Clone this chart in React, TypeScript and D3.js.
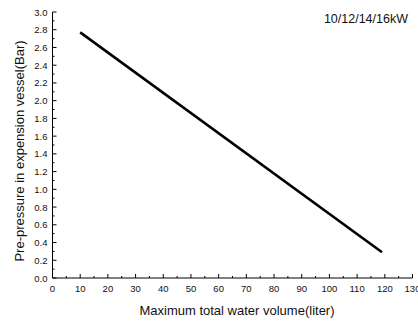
import React from "react";
import * as d3 from "d3";

const volumes = [10, 119];
const pressures = [2.77, 0.29];
const xTicks = [0, 10, 20, 30, 40, 50, 60, 70, 80, 90, 100, 110, 120, 130];
const yTicks = [0, 0.2, 0.4, 0.6, 0.8, 1.0, 1.2, 1.4, 1.6, 1.8, 2.0, 2.2, 2.4, 2.6, 2.8, 3.0];
const xLabel = "Maximum total water volume(liter)";
const yLabel = "Pre-pressure in expension vessel(Bar)";
const note = "10/12/14/16kW";

export default function App() {
  const W = 418, H = 323;
  const x = d3.scaleLinear().domain([0, 130]).range([52.5, 412.5]);
  const y = d3.scaleLinear().domain([0, 3]).range([278, 12]);
  const line = d3.line<number>().x((d, i) => x(volumes[i])).y((d) => y(d));
  const font = "'Liberation Sans', Arial, sans-serif";
  const xMinor = xTicks.slice(0, -1).map((t) => t + 5);
  const yMinor = yTicks.slice(0, -1).map((t) => t + 0.1);
  return (
    <svg width={W} height={H} style={{ position: "absolute", left: 0, top: 0, background: "#fff" }}>
      <g stroke="#000" strokeWidth={1} fill="none">
        <line x1={x(0)} x2={x(130)} y1={y(0)} y2={y(0)} />
        <line x1={x(0)} x2={x(0)} y1={y(0)} y2={y(3)} />
        {xTicks.map((t) => (
          <line key={"xt" + t} x1={x(t)} x2={x(t)} y1={y(0)} y2={y(0) - 4} />
        ))}
        {xMinor.map((t) => (
          <line key={"xm" + t} x1={x(t)} x2={x(t)} y1={y(0)} y2={y(0) - 2} />
        ))}
        {yTicks.map((t) => (
          <line key={"yt" + t} x1={x(0)} x2={x(0) + 4} y1={y(t)} y2={y(t)} />
        ))}
        {yMinor.map((t) => (
          <line key={"ym" + t} x1={x(0)} x2={x(0) + 2} y1={y(t)} y2={y(t)} />
        ))}
      </g>
      <g fontFamily={font} fontSize={9.5} fill="#111">
        {xTicks.map((t) => (
          <text key={"xl" + t} x={x(t)} y={y(0) + 14} textAnchor="middle">{t}</text>
        ))}
        {yTicks.map((t) => (
          <text key={"yl" + t} x={x(0) - 5} y={y(t) + 3.5} textAnchor="end">{t.toFixed(1)}</text>
        ))}
      </g>
      <path d={line(pressures) || ""} stroke="#000" strokeWidth={2.6} fill="none" />
      <text x={237} y={315} textAnchor="middle" fontFamily={font} fontSize={13} fill="#111">{xLabel}</text>
      <text transform={`translate(24,151) rotate(-90)`} textAnchor="middle" fontFamily={font} fontSize={13} fill="#111">{yLabel}</text>
      <text x={408} y={23} textAnchor="end" fontFamily={font} fontSize={12.5} fill="#111">{note}</text>
    </svg>
  );
}
